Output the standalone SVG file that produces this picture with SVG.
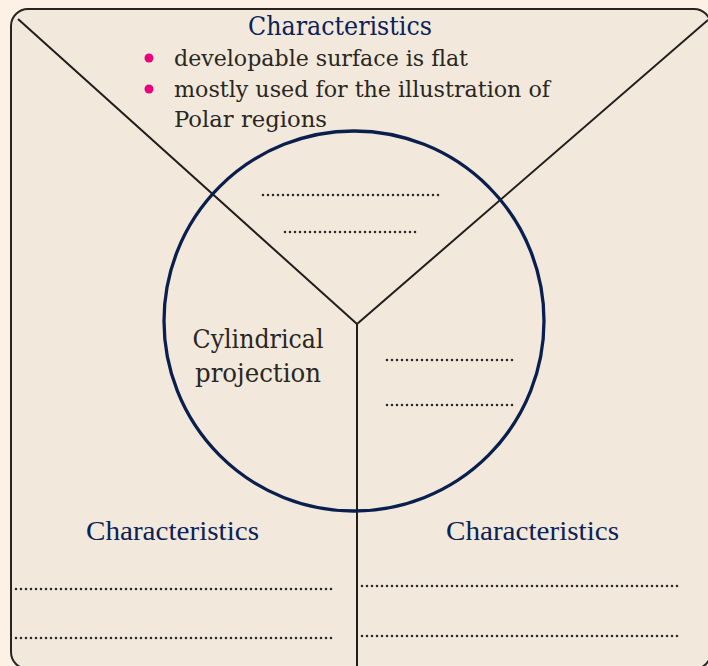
<svg xmlns="http://www.w3.org/2000/svg" width="708" height="666" viewBox="0 0 708 666">
<style>
.ln{stroke:#221d1a;stroke-width:2;fill:none}
.dot{stroke:#2e2924;stroke-width:2.6;stroke-linecap:round;stroke-dasharray:0 5;fill:none}
.hd{font-family:"DejaVu Serif",serif;fill:#0b2257}
.hd2{font-family:"Liberation Serif",serif;fill:#0b2257;font-size:28px}
.tx{font-family:"DejaVu Serif",serif;fill:#2a2622}
</style>
<rect x="0" y="0" width="708" height="666" fill="#fdf1e6"/>
<rect x="11" y="9" width="700" height="660" rx="17" fill="#f2e9dc" stroke="#2a2420" stroke-width="2"/>
<g id="connectors">
<line class="ln" x1="18" y1="19" x2="357" y2="324"/>
<line class="ln" x1="708" y1="20" x2="357" y2="324"/>
<line class="ln" x1="357" y1="324" x2="357" y2="666"/>
</g>
<g id="center">
<circle cx="354" cy="321" r="190" fill="none" stroke="#0a1f4d" stroke-width="3.3"/>
<text class="tx" font-size="25.5" x="258" y="348" text-anchor="middle" textLength="131" lengthAdjust="spacingAndGlyphs">Cylindrical</text>
<text class="tx" font-size="25.5" x="258" y="382" text-anchor="middle" textLength="126" lengthAdjust="spacingAndGlyphs">projection</text>
<line class="dot" x1="263" y1="195" x2="443" y2="195"/>
<line class="dot" x1="285" y1="232" x2="420" y2="232"/>
<line class="dot" x1="387" y1="360" x2="515" y2="360"/>
<line class="dot" x1="387" y1="405" x2="515" y2="405"/>
</g>
<g id="top">
<text class="hd" font-size="25.5" x="248" y="35" textLength="184" lengthAdjust="spacingAndGlyphs">Characteristics</text>
<circle cx="149" cy="58" r="4.5" fill="#e8007f"/>
<circle cx="149" cy="89" r="4.5" fill="#e8007f"/>
<text class="tx" font-size="21.5" x="174" y="66" textLength="294" lengthAdjust="spacingAndGlyphs">developable surface is flat</text>
<text class="tx" font-size="21.5" x="174" y="97" textLength="376" lengthAdjust="spacingAndGlyphs">mostly used for the illustration of</text>
<text class="tx" font-size="21.5" x="174" y="127" textLength="153" lengthAdjust="spacingAndGlyphs">Polar regions</text>
</g>
<g id="left">
<text class="hd2" x="86" y="540" textLength="173" lengthAdjust="spacingAndGlyphs">Characteristics</text>
<line class="dot" x1="16" y1="589" x2="334" y2="589"/>
<line class="dot" x1="16" y1="638" x2="334" y2="638"/>
</g>
<g id="right">
<text class="hd2" x="446" y="540" textLength="173" lengthAdjust="spacingAndGlyphs">Characteristics</text>
<line class="dot" x1="362" y1="586" x2="681" y2="586"/>
<line class="dot" x1="362" y1="636" x2="681" y2="636"/>
</g>
</svg>
